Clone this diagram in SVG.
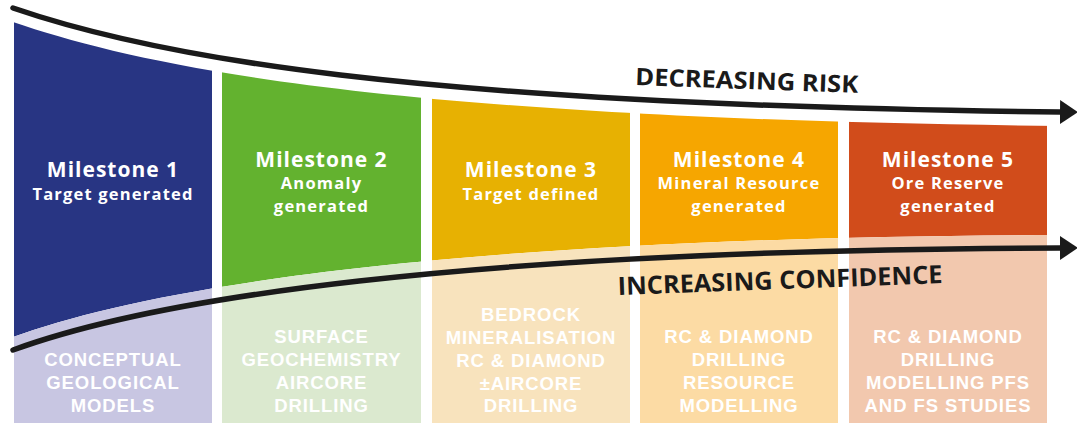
<svg xmlns="http://www.w3.org/2000/svg" width="1077" height="426" viewBox="0 0 1077 426">
  <style>
    .title { font-family: "Open Sans", "Liberation Sans", sans-serif; font-weight: 700; font-size: 21px; fill: #ffffff; text-anchor: middle; letter-spacing: 1px; }
    .sub { font-family: "Open Sans", "Liberation Sans", sans-serif; font-weight: 700; font-size: 16.5px; fill: #ffffff; text-anchor: middle; letter-spacing: 1.2px; }
    .act { font-family: "Liberation Sans", Arial, sans-serif; font-weight: 700; font-size: 18.5px; fill: #ffffff; text-anchor: middle; letter-spacing: 0.9px; }
    .axis { font-family: "Open Sans", "Liberation Sans", sans-serif; font-weight: 700; fill: #1a1a1a; }
    .line { fill: none; stroke: #1a1a1a; stroke-width: 5.5; stroke-linecap: round; }
  </style>
  <defs>
    <!-- band between the risk curve and the confidence curve: milestone colour -->
    <clipPath id="upper">
      <path d="M0,22 L13,22 C150,69 400,119 1060,126 L1077,126 L1077,235 L1060,235 C450,237 150,287 13,337 L0,337 Z"/>
    </clipPath>
    <!-- region under the confidence curve: pale activity band -->
    <clipPath id="lower">
      <path d="M0,337 L13,337 C150,287 450,237 1060,235 L1077,235 L1077,423 L0,423 Z"/>
    </clipPath>
    <marker id="head" markerUnits="userSpaceOnUse" markerWidth="20" markerHeight="26" refX="0" refY="12" orient="auto" viewBox="0 0 20 24">
      <path d="M0,0 L18,12 L0,24 Z" fill="#1a1a1a"/>
    </marker>
  </defs>

  <!-- Milestone 1 -->
  <g id="milestone-1">
    <rect x="14" y="0" width="198" height="423" fill="#283583" clip-path="url(#upper)"/>
    <rect x="14" y="0" width="198" height="423" fill="#c8c6e2" clip-path="url(#lower)"/>
    <text class="title" x="113" y="177">Milestone 1</text>
    <text class="sub" x="113" y="200">Target generated</text>
    <text class="act"><tspan x="113" y="366">CONCEPTUAL</tspan><tspan x="113" y="389">GEOLOGICAL</tspan><tspan x="113" y="412">MODELS</tspan></text>
  </g>

  <!-- Milestone 2 -->
  <g id="milestone-2">
    <rect x="222" y="0" width="199" height="423" fill="#63b22f" clip-path="url(#upper)"/>
    <rect x="222" y="0" width="199" height="423" fill="#dbe9cf" clip-path="url(#lower)"/>
    <text class="title" x="321.5" y="167">Milestone 2</text>
    <text class="sub"><tspan x="321.5" y="189">Anomaly</tspan><tspan x="321.5" y="212">generated</tspan></text>
    <text class="act"><tspan x="321.5" y="343">SURFACE</tspan><tspan x="321.5" y="366">GEOCHEMISTRY</tspan><tspan x="321.5" y="389">AIRCORE</tspan><tspan x="321.5" y="412">DRILLING</tspan></text>
  </g>

  <!-- Milestone 3 -->
  <g id="milestone-3">
    <rect x="432" y="0" width="198" height="423" fill="#e7b102" clip-path="url(#upper)"/>
    <rect x="432" y="0" width="198" height="423" fill="#f8e3bd" clip-path="url(#lower)"/>
    <text class="title" x="531" y="177">Milestone 3</text>
    <text class="sub" x="531" y="200">Target defined</text>
    <text class="act"><tspan x="531" y="321">BEDROCK</tspan><tspan x="531" y="344">MINERALISATION</tspan><tspan x="531" y="367">RC &amp; DIAMOND</tspan><tspan x="531" y="389.5">±AIRCORE</tspan><tspan x="531" y="412">DRILLING</tspan></text>
  </g>

  <!-- Milestone 4 -->
  <g id="milestone-4">
    <rect x="640" y="0" width="198" height="423" fill="#f6a600" clip-path="url(#upper)"/>
    <rect x="640" y="0" width="198" height="423" fill="#fcdba4" clip-path="url(#lower)"/>
    <text class="title" x="739" y="167">Milestone 4</text>
    <text class="sub"><tspan x="739" y="189">Mineral Resource</tspan><tspan x="739" y="212">generated</tspan></text>
    <text class="act"><tspan x="739" y="343">RC &amp; DIAMOND</tspan><tspan x="739" y="366">DRILLING</tspan><tspan x="739" y="389">RESOURCE</tspan><tspan x="739" y="412">MODELLING</tspan></text>
  </g>

  <!-- Milestone 5 -->
  <g id="milestone-5">
    <rect x="849" y="0" width="198" height="423" fill="#d14c1b" clip-path="url(#upper)"/>
    <rect x="849" y="0" width="198" height="423" fill="#f2c8ae" clip-path="url(#lower)"/>
    <text class="title" x="948" y="167">Milestone 5</text>
    <text class="sub"><tspan x="948" y="189">Ore Reserve</tspan><tspan x="948" y="212">generated</tspan></text>
    <text class="act"><tspan x="948" y="343">RC &amp; DIAMOND</tspan><tspan x="948" y="366">DRILLING</tspan><tspan x="948" y="389">MODELLING PFS</tspan><tspan x="948" y="412">AND FS STUDIES</tspan></text>
  </g>

  <!-- Trend arrows -->
  <g id="connectors">
    <path class="line" d="M13,8 C150,55 400,105 1060,112" marker-end="url(#head)"/>
    <path class="line" d="M13,350 C150,300 450,250 1060,248" marker-end="url(#head)"/>
    <text class="axis" x="635" y="85" font-size="24" textLength="223" lengthAdjust="spacingAndGlyphs" transform="rotate(2.05 635 85)">DECREASING RISK</text>
    <text class="axis" x="618" y="295" font-size="25" textLength="325" lengthAdjust="spacingAndGlyphs" transform="rotate(-2.1 618 295)">INCREASING CONFIDENCE</text>
  </g>
</svg>
